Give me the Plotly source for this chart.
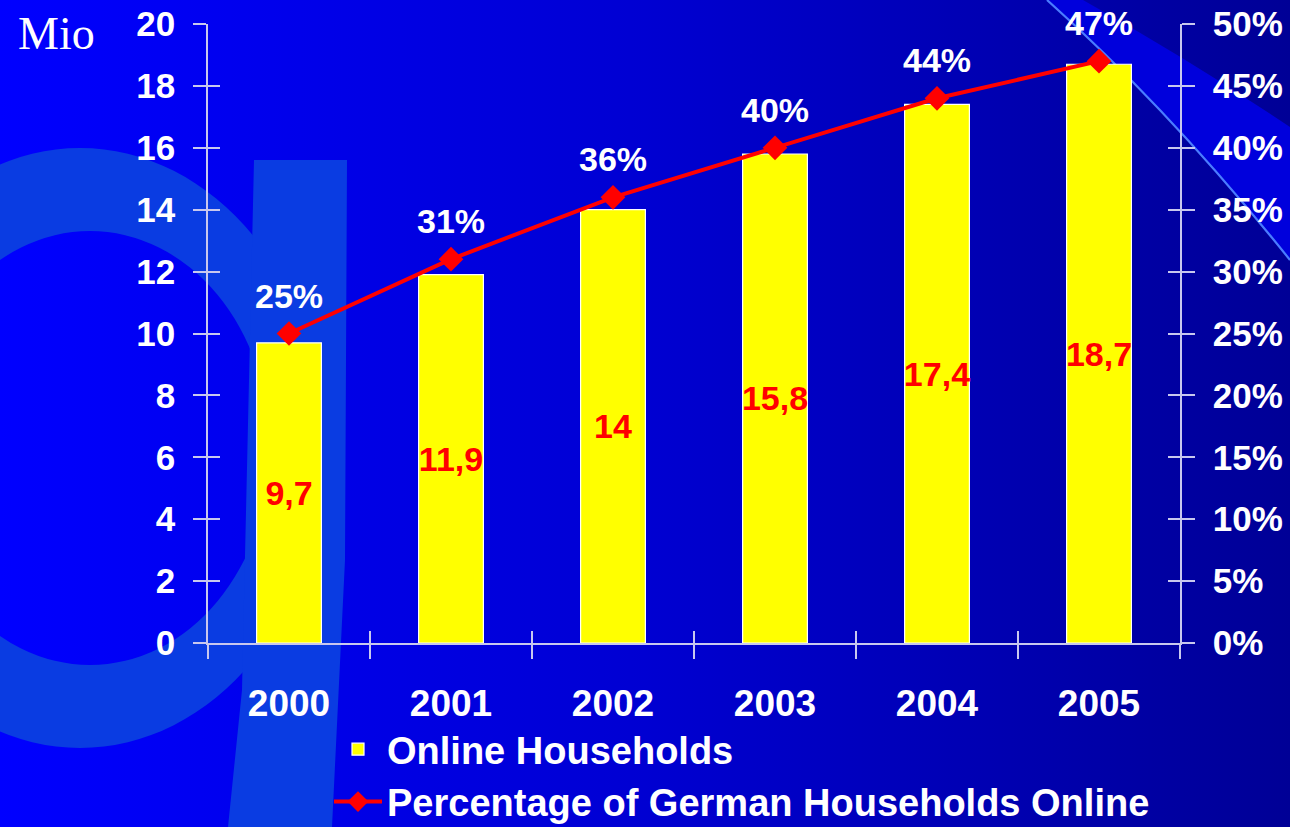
import base64
import plotly.graph_objects as go

years = ["2000", "2001", "2002", "2003", "2004", "2005"]
households_mio = [9.7, 11.9, 14.0, 15.8, 17.4, 18.7]
percent_online = [25, 31, 36, 40, 44, 47]
left_ticks = list(range(0, 21, 2))
right_ticks = list(range(0, 51, 5))

W, H = 1290, 827
ML, MR, MT, MB = 208, 110, 24, 184
PW, PH = W - ML - MR, H - MT - MB

FONT = "Liberation Sans, Arial, sans-serif"
AXC = "#C8C8EE"

svg = f'''<svg xmlns="http://www.w3.org/2000/svg" width="{W}" height="{H}" viewBox="0 0 {W} {H}">
<defs><linearGradient id="g" x1="0" y1="0" x2="1" y2="0">
<stop offset="0" stop-color="#0000FF"/><stop offset="0.5" stop-color="#0000D2"/><stop offset="1" stop-color="#000096"/>
</linearGradient></defs>
<rect width="{W}" height="{H}" fill="url(#g)"/>
<path fill="#0A3CE2" fill-rule="evenodd" d="M-165,448 a245,300 0 1,0 490,0 a245,300 0 1,0 -490,0 Z M-90,448 a180,217 0 1,0 360,0 a180,217 0 1,0 -360,0 Z"/>
<path fill="#0A3CE2" d="M254,160 L347,160 L345,560 L332,827 L228,827 L242,690 L244,600 Z"/>
<path fill="#0000DC" d="M1083,0 Q1190,60 1290,127 L1290,260 Q1170,110 1047,0 Z"/>
<path fill="none" stroke="#4A7CFF" stroke-width="2.2" d="M1047,0 Q1170,110 1290,260"/>
</svg>'''
src = "data:image/svg+xml;base64," + base64.b64encode(svg.encode()).decode()

fig = go.Figure()

fig.add_trace(go.Bar(
    x=years, y=households_mio, name="Online Households",
    marker=dict(color="#FFFF00", line=dict(color="white", width=1.2)),
    width=0.4,
    text=[f"{v:g}".replace(".", ",") for v in households_mio],
    textposition="inside", insidetextanchor="middle", constraintext="none", textangle=0,
    textfont=dict(family=FONT, size=34, color="#FF0000", weight="bold"),
    legendgroup="a", hoverinfo="skip",
))

fig.add_trace(go.Scatter(
    x=years, y=percent_online, yaxis="y2", name="Percentage of German Households Online",
    mode="lines+markers",
    line=dict(color="#FF0000", width=4),
    marker=dict(symbol="diamond", size=19, color="#FF0000"),
    legendgroup="b", hoverinfo="skip",
))

# helper traces for the inner half of the cross-shaped ticks
fig.add_trace(go.Scatter(x=years, y=[None] * len(years), xaxis="x2", yaxis="y3",
                         showlegend=False, hoverinfo="skip", mode="markers"))
fig.add_trace(go.Scatter(x=years, y=[None] * len(years), xaxis="x2", yaxis="y4",
                         showlegend=False, hoverinfo="skip", mode="markers"))

for i, p in enumerate(percent_online):
    fig.add_annotation(x=i, y=p, xref="x", yref="y2", text=f"{p}%", showarrow=False,
                       yshift=38, font=dict(family=FONT, size=34, color="white", weight="bold"))

fig.add_annotation(xref="paper", yref="paper", x=(16 - ML) / PW, y=(H - MB - 33) / PH,
                   text="Mio", showarrow=False, xanchor="left", yanchor="middle",
                   font=dict(family="Liberation Serif, Times New Roman, serif", size=46, color="white"))

tickfont = dict(family=FONT, size=35, color="white", weight="bold")
xtickfont = dict(family=FONT, size=37, color="white", weight="bold")
common = dict(showgrid=False, zeroline=False, tickcolor=AXC, tickwidth=1.5, automargin=False)
xr = [-0.5, len(years) - 0.5]

fig.update_layout(
    template="none",
    width=W, height=H, autosize=False,
    margin=dict(l=ML, r=MR, t=MT, b=MB, pad=0, autoexpand=False),
    paper_bgcolor="#0000C0", plot_bgcolor="rgba(0,0,0,0)",
    images=[dict(source=src, xref="paper", yref="paper", x=-ML / PW, y=1 + MT / PH,
                 sizex=W / PW, sizey=H / PH, xanchor="left", yanchor="top",
                 sizing="stretch", layer="below")],
    xaxis=dict(type="category", categoryorder="array", categoryarray=years, range=xr,
               tickson="boundaries", ticks="outside", ticklen=14, tickangle=0,
               showline=True, linecolor=AXC, linewidth=1.5,
               tickfont=xtickfont, ticklabelstandoff=27, **common),
    xaxis2=dict(type="category", categoryorder="array", categoryarray=years, range=xr,
                overlaying="x", anchor="y", side="bottom",
                tickson="boundaries", ticks="inside", ticklen=12,
                showticklabels=False, showline=False, **common),
    yaxis=dict(range=[0, 20], tickvals=left_ticks, ticks="outside", ticklen=13,
               showline=True, linecolor=AXC, linewidth=1.5,
               tickfont=tickfont, ticklabelstandoff=11, **common),
    yaxis2=dict(range=[0, 50], tickvals=right_ticks, ticktext=[f"{t}%" for t in right_ticks],
                overlaying="y", side="right", ticks="outside", ticklen=13,
                showline=True, linecolor=AXC, linewidth=1.5,
                tickfont=tickfont, ticklabelstandoff=11, **common),
    yaxis3=dict(range=[0, 20], tickvals=left_ticks, overlaying="y", side="left",
                ticks="inside", ticklen=12, showticklabels=False, showline=False, **common),
    yaxis4=dict(range=[0, 50], tickvals=right_ticks, overlaying="y", side="right",
                ticks="inside", ticklen=12, showticklabels=False, showline=False, **common),
    showlegend=True,
    legend=dict(x=(329 - ML) / PW, y=(H - MB - 718) / PH, xanchor="left", yanchor="top",
                bgcolor="rgba(0,0,0,0)", font=dict(family=FONT, size=38, color="white", weight="bold"),
                itemwidth=48, tracegroupgap=0, traceorder="grouped"),
)

fig.write_html("out.html", config={"displayModeBar": False},
               post_script="document.body.style.margin='0';document.body.style.overflow='hidden';")
